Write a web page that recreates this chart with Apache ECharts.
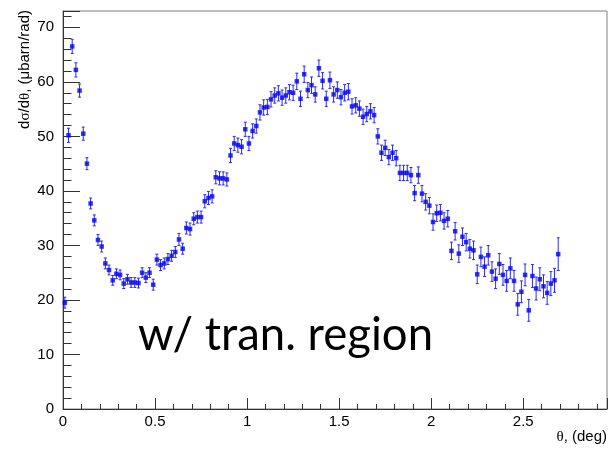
<!DOCTYPE html>
<html>
<head>
<meta charset="utf-8">
<script src="https://cdn.jsdelivr.net/npm/echarts@6/dist/echarts.min.js"></script>
<style>
  html, body { margin: 0; padding: 0; background: #fff; }
  #chart { width: 612px; height: 450px; }
</style>
</head>
<body>
<div id="chart"></div>
<script>
// Bin centres, deg
const theta = [
  0.01, 0.03, 0.05, 0.07, 0.09, 0.11, 0.13, 0.15, 0.17, 0.19,
  0.21, 0.23, 0.25, 0.27, 0.29, 0.31, 0.33, 0.35, 0.37, 0.39,
  0.41, 0.43, 0.45, 0.47, 0.49, 0.51, 0.53, 0.55, 0.57, 0.59,
  0.61, 0.63, 0.65, 0.67, 0.69, 0.71, 0.73, 0.75, 0.77, 0.79,
  0.81, 0.83, 0.85, 0.87, 0.89, 0.91, 0.93, 0.95, 0.97, 0.99,
  1.01, 1.03, 1.05, 1.07, 1.09, 1.11, 1.13, 1.15, 1.17, 1.19,
  1.21, 1.23, 1.25, 1.27, 1.29, 1.31, 1.33, 1.35, 1.37, 1.39,
  1.41, 1.43, 1.45, 1.47, 1.49, 1.51, 1.53, 1.55, 1.57, 1.59,
  1.61, 1.63, 1.65, 1.67, 1.69, 1.71, 1.73, 1.75, 1.77, 1.79,
  1.81, 1.83, 1.85, 1.87, 1.89, 1.91, 1.93, 1.95, 1.97, 1.99,
  2.01, 2.03, 2.05, 2.07, 2.09, 2.11, 2.13, 2.15, 2.17, 2.19,
  2.21, 2.23, 2.25, 2.27, 2.29, 2.31, 2.33, 2.35, 2.37, 2.39,
  2.41, 2.43, 2.45, 2.47, 2.49, 2.51, 2.53, 2.55, 2.57, 2.59,
  2.61, 2.63, 2.65, 2.67, 2.69
];

// dσ/dθ, μbarn/rad
const dsigma = [
  19.5, 50.2, 66.5, 62.2, 58.4, 50.5, 45.0, 37.7, 34.6, 31.0,
  29.8, 26.7, 25.5, 23.6, 24.8, 24.6, 23.0, 23.8, 23.2, 23.2,
  23.1, 25.0, 24.1, 25.0, 22.8, 27.4, 26.4, 26.7, 27.5, 28.1,
  28.8, 31.1, 29.4, 33.2, 33.0, 34.9, 35.2, 35.2, 38.1, 38.7,
  39.0, 42.5, 42.3, 42.3, 42.1, 46.5, 48.7, 48.4, 48.1, 51.3,
  48.7, 51.0, 51.9, 54.4, 55.3, 55.4, 56.8, 57.5, 57.9, 57.1,
  57.5, 58.1, 58.0, 60.1, 56.9, 61.4, 58.5, 59.4, 57.7, 62.5,
  60.2, 56.9, 60.3, 57.7, 58.5, 57.2, 58.0, 58.2, 55.5, 55.7,
  55.1, 53.6, 54.1, 54.6, 53.9, 50.0, 47.0, 47.9, 46.2, 47.0,
  46.0, 43.3, 43.3, 43.3, 42.9, 39.6, 42.9, 39.5, 38.0, 37.3,
  34.3, 35.9, 36.0, 34.5, 34.9, 29.0, 32.6, 28.5, 31.6, 30.6,
  29.4, 29.1, 24.7, 27.9, 26.1, 28.2, 25.2, 23.9, 26.6, 24.6,
  23.5, 25.8, 23.5, 19.2, 21.5, 24.6, 18.1, 24.4, 22.1, 23.8,
  22.5, 21.3, 23.0, 23.6, 28.4
];

// Statistical uncertainty on each bin
const dsigmaErr = [
  1.0, 1.3, 1.3, 1.3, 1.2, 1.2, 1.1, 1.0, 1.0, 1.0,
  1.0, 1.0, 0.9, 0.9, 0.9, 0.9, 0.9, 0.9, 0.9, 0.9,
  0.9, 0.9, 0.9, 0.9, 1.0, 1.0, 1.0, 1.0, 1.0, 1.0,
  1.0, 1.1, 1.0, 1.1, 1.1, 1.1, 1.1, 1.1, 1.2, 1.2,
  1.2, 1.2, 1.2, 1.2, 1.2, 1.3, 1.3, 1.3, 1.3, 1.3,
  1.3, 1.3, 1.3, 1.4, 1.4, 1.4, 1.4, 1.4, 1.4, 1.4,
  1.4, 1.4, 1.4, 1.5, 1.4, 1.5, 1.4, 1.5, 1.4, 1.5,
  1.5, 1.4, 1.5, 1.4, 1.5, 1.4, 1.5, 1.5, 1.4, 1.4,
  1.4, 1.4, 1.4, 1.4, 1.4, 1.4, 1.4, 1.4, 1.4, 1.4,
  1.4, 1.4, 1.4, 1.4, 1.4, 1.4, 1.5, 1.5, 1.5, 1.5,
  1.5, 1.5, 1.5, 1.5, 1.5, 1.6, 1.6, 1.6, 1.6, 1.6,
  1.7, 1.7, 1.7, 1.8, 1.8, 1.8, 1.8, 1.8, 1.9, 1.9,
  1.9, 1.9, 1.9, 2.0, 2.0, 2.0, 2.0, 2.1, 2.1, 2.1,
  2.1, 2.1, 2.2, 2.2, 3.0
];

const xTickLabels = ['0', '0.5', '1', '1.5', '2', '2.5'];
const yTickLabels = ['0', '10', '20', '30', '40', '50', '60', '70'];

const markerColor = '#0000f5';
const errColor = '#2a2af0';
const axisColor = '#333333';
const labelFont = 'Liberation Sans, Arial, sans-serif';

const points = theta.map((t, i) => [t, dsigma[i], dsigmaErr[i]]);

function pickLabel(list) {
  return function (v) {
    const s = String(+v.toFixed(3));
    return list.includes(s) ? s : '';
  };
}

const chart = echarts.init(document.getElementById('chart'), null, { renderer: 'canvas' });

chart.setOption({
  animation: false,
  backgroundColor: '#ffffff',
  grid: {
    left: 63, right: 5, top: 11, bottom: 41,
    show: true, borderColor: '#7f7f7f', borderWidth: 1, backgroundColor: 'transparent'
  },
  xAxis: [
    {
      type: 'value', gridIndex: 0, position: 'bottom',
      min: 0, max: 2.955, interval: 0.5,
      axisLine: { show: true, onZero: false, lineStyle: { color: axisColor, width: 1 } },
      axisTick: { show: true, inside: true, length: 11, lineStyle: { color: axisColor } },
      axisLabel: {
        formatter: pickLabel(xTickLabels), margin: 5,
        fontSize: 15, color: '#000', fontFamily: labelFont
      },
      splitLine: { show: false }
    },
    {
      type: 'value', gridIndex: 0, position: 'bottom', offset: 0,
      min: 0, max: 2.955, interval: 0.1,
      axisLine: { show: false },
      axisTick: { show: true, inside: true, length: 5, lineStyle: { color: axisColor } },
      axisLabel: { show: false },
      splitLine: { show: false }
    }
  ],
  yAxis: [
    {
      type: 'value', gridIndex: 0, position: 'left',
      min: 0, max: 73, interval: 10,
      axisLine: { show: true, onZero: false, lineStyle: { color: axisColor, width: 1 } },
      axisTick: { show: true, inside: true, length: 17, lineStyle: { color: axisColor } },
      axisLabel: {
        formatter: pickLabel(yTickLabels), margin: 9,
        fontSize: 15, color: '#000', fontFamily: labelFont
      },
      splitLine: { show: false }
    },
    {
      type: 'value', gridIndex: 0, position: 'left', offset: 0,
      min: 0, max: 73, interval: 2,
      axisLine: { show: false },
      axisTick: { show: true, inside: true, length: 8.5, lineStyle: { color: axisColor } },
      axisLabel: { show: false },
      splitLine: { show: false }
    }
  ],
  series: [
    {
      type: 'custom',
      xAxisIndex: 0, yAxisIndex: 0,
      data: points,
      encode: { x: 0, y: 1 },
      silent: true,
      z: 2,
      renderItem: function (params, api) {
        const x = api.value(0), y = api.value(1), e = api.value(2);
        const lo = api.coord([x, y - e]);
        const hi = api.coord([x, y + e]);
        const cap = 1.5;
        const style = { stroke: errColor, lineWidth: 1 };
        return {
          type: 'group',
          children: [
            { type: 'line', shape: { x1: lo[0], y1: lo[1], x2: hi[0], y2: hi[1] }, style: style },
            { type: 'line', shape: { x1: lo[0] - cap, y1: lo[1], x2: lo[0] + cap, y2: lo[1] }, style: style },
            { type: 'line', shape: { x1: hi[0] - cap, y1: hi[1], x2: hi[0] + cap, y2: hi[1] }, style: style }
          ]
        };
      }
    },
    {
      type: 'scatter',
      xAxisIndex: 0, yAxisIndex: 0,
      data: points.map(p => [p[0], p[1]]),
      symbol: 'rect',
      symbolSize: 4.5,
      itemStyle: { color: markerColor },
      silent: true,
      z: 3
    }
  ],
  graphic: [
    {
      type: 'text',
      x: 25, y: 10,
      rotation: Math.PI / 2,
      style: {
        text: '{t|d}{g|σ}{t|/d}{g|θ}{t|, (μbarn/rad)}',
        align: 'right', verticalAlign: 'middle',
        rich: {
          t: { fontSize: 15, fontFamily: labelFont, fill: '#000' },
          g: { fontSize: 15, fontFamily: 'Liberation Serif, serif', fill: '#000' }
        }
      }
    },
    {
      type: 'text',
      x: 607, y: 437,
      style: {
        text: '{g|θ}{t|, (deg)}',
        align: 'right', verticalAlign: 'middle',
        rich: {
          t: { fontSize: 15, fontFamily: labelFont, fill: '#000' },
          g: { fontSize: 15, fontFamily: 'Liberation Serif, serif', fill: '#000' }
        }
      }
    },
    {
      type: 'text',
      x: 138, y: 335,
      style: {
        text: 'w/ tran. region',
        font: '45.5px Lato, "Open Sans", sans-serif',
        fill: '#000',
        align: 'left', verticalAlign: 'middle'
      }
    }
  ]
});
</script>
</body>
</html>
